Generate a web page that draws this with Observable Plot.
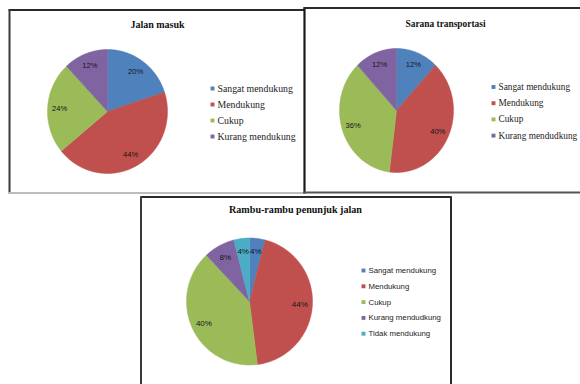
<!DOCTYPE html>
<html><head><meta charset="utf-8">
<script src="https://cdn.jsdelivr.net/npm/d3@7"></script>
<script src="https://cdn.jsdelivr.net/npm/@observablehq/plot@0.6"></script>
<style>body{margin:0;background:#fff} svg{display:block}</style>
</head><body><div id="chart"></div>
<script>
// ---- data ----
const titles = ["Jalan masuk", "Sarana transportasi", "Rambu-rambu penunjuk jalan"];
const categories1 = ["Sangat mendukung", "Mendukung", "Cukup", "Kurang mendukung"];
const values1 = [20, 44, 24, 12];
const categories2 = ["Sangat mendukung", "Mendukung", "Cukup", "Kurang mendudkung"];
const values2 = [12, 40, 36, 12];
const categories3 = ["Sangat mendukung", "Mendukung", "Cukup", "Kurang mendudkung", "Tidak mendukung"];
const values3 = [4, 44, 40, 8, 4];
const palette = ["#4F81BD", "#C0504D", "#9BBB59", "#8064A2", "#4BACC6"];

// ---- layout (pixels) ----
const layout = [
  {cx: 107, cy: 111, rx: 60, ry: 62, tx: 157, ty: 24, tfs: 10, lx: 212, ly: 88, dy: 16, lfont: "Liberation Serif", lfs: 9.8, pfs: 7.6},
  {cx: 396, cy: 110, rx: 57, ry: 62, tx: 445, ty: 23, tfs: 9.4, lx: 493, ly: 86.5, dy: 16.2, lfont: "Liberation Serif", lfs: 9.3, pfs: 7.6},
  {cx: 249, cy: 301, rx: 63, ry: 63.5, tx: 295, ty: 209, tfs: 10.1, lx: 363, ly: 270, dy: 15.8, lfont: "Liberation Sans", lfs: 7.8, pfs: 8}
];
const borders = [
  {x1: 8, y1: 9.5, x2: 304, y2: 9.5, c: "#2a2a2a", w: 2},
  {x1: 9, y1: 9, x2: 9, y2: 193, c: "#3a3a3a", w: 2},
  {x1: 8, y1: 192.5, x2: 304, y2: 192.5, c: "#bdbdbd", w: 2},
  {x1: 304, y1: 7, x2: 304, y2: 193, c: "#1a1a1a", w: 2.2},
  {x1: 303, y1: 7.5, x2: 580, y2: 7.5, c: "#2a2a2a", w: 2},
  {x1: 303, y1: 192, x2: 580, y2: 192, c: "#555", w: 2},
  {x1: 140, y1: 196.5, x2: 451, y2: 196.5, c: "#2a2a2a", w: 2},
  {x1: 140.5, y1: 196, x2: 140.5, y2: 384, c: "#3a3a3a", w: 2},
  {x1: 450.5, y1: 196, x2: 450.5, y2: 384, c: "#2a2a2a", w: 2}
];

// ---- derived geometry ----
const charts = [[categories1, values1], [categories2, values2], [categories3, values3]];
const wedges = [], labels = [], legend = [], heads = [];
charts.forEach(([cats, vals], ci) => {
  const L = layout[ci];
  const arcs = d3.pie().sort(null).startAngle(0).endAngle(2 * Math.PI)(vals);
  const total = d3.sum(vals);
  arcs.forEach((a, i) => {
    const key = ci + "-" + i;
    const pt = (ang, f) => ({key, idx: i, x: L.cx + f * L.rx * Math.sin(ang), y: L.cy - f * L.ry * Math.cos(ang)});
    wedges.push({key, idx: i, x: L.cx, y: L.cy});
    const n = Math.max(2, Math.ceil((a.endAngle - a.startAngle) / 0.02));
    for (let k = 0; k <= n; k++) wedges.push(pt(a.startAngle + (a.endAngle - a.startAngle) * k / n, 1));
    wedges.push({key, idx: i, x: L.cx, y: L.cy});
    const mid = (a.startAngle + a.endAngle) / 2;
    const p = pt(mid, 0.8);
    labels.push({chart: ci, x: p.x, y: p.y, text: Math.round(vals[i] / total * 100) + "%"});
    legend.push({chart: ci, idx: i, x: L.lx, y: L.ly + i * L.dy, text: cats[i]});
  });
  heads.push({chart: ci, x: L.tx, y: L.ty, text: titles[ci]});
});

const perChart = ci => [
  Plot.text(labels.filter(d => d.chart === ci), {x: "x", y: "y", text: "text", fontFamily: "Liberation Sans", fontSize: layout[ci].pfs, fill: "#151515"}),
  Plot.text(heads.filter(d => d.chart === ci), {x: "x", y: "y", text: "text", fontFamily: "Liberation Serif", fontWeight: "bold", fontSize: layout[ci].tfs, fill: "#111"}),
  Plot.text(legend.filter(d => d.chart === ci), {
    x: d => d.x + 5, y: "y", text: "text", textAnchor: "start",
    fontFamily: layout[ci].lfont, fontSize: layout[ci].lfs, fill: "#222"
  })
];

const chart = Plot.plot({
  width: 580, height: 384, margin: 0,
  x: {domain: [0, 580], range: [0, 580], axis: null},
  y: {domain: [0, 384], range: [0, 384], axis: null},
  color: {type: "ordinal", domain: [0, 1, 2, 3, 4], range: palette},
  style: {background: "#fff", overflow: "visible"},
  marks: [
    Plot.line(wedges, {x: "x", y: "y", z: "key", fill: "idx", stroke: "idx", strokeWidth: 0.5, curve: "linear"}),
    Plot.dot(legend, {x: "x", y: "y", fill: "idx", symbol: "square", r: 2.2, stroke: null}),
    ...perChart(0), ...perChart(1), ...perChart(2),
    Plot.link(borders, {x1: "x1", y1: "y1", x2: "x2", y2: "y2", stroke: d => d.c, strokeWidth: d => d.w})
  ]
});
document.getElementById("chart").appendChild(chart);
</script>
</body></html>
